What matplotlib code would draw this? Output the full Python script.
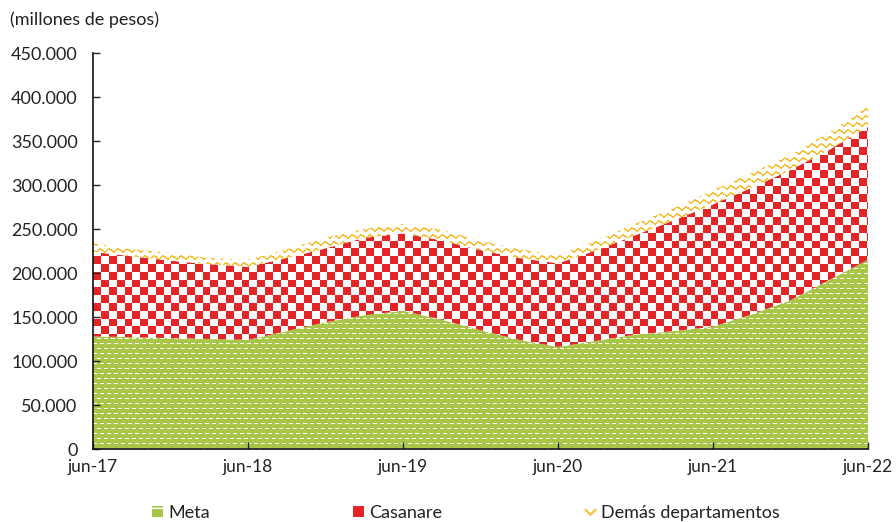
import numpy as np
import matplotlib.pyplot as plt
from matplotlib.colors import to_rgb
from matplotlib.patches import Patch
from matplotlib.lines import Line2D
from matplotlib.path import Path
from matplotlib.ticker import FuncFormatter

# datos trimestrales, millones de pesos
etiquetas = ['jun-17', 'jun-18', 'jun-19', 'jun-20', 'jun-21', 'jun-22']
meses = np.arange(0, 61, 3)
meta = np.array([128, 127, 126, 125, 124, 134, 144, 152, 157, 147, 135,
                 124, 116, 123, 130, 134, 139, 153, 169, 192, 215]) * 1000
casanare = np.array([96, 92, 88, 85, 83, 83, 84, 88, 88, 90, 91,
                     93, 95, 103, 113, 126, 139, 144, 148, 148, 151]) * 1000
demas = np.array([10, 8, 9, 7, 8, 10, 12, 10, 11, 12, 11,
                  10, 9, 11, 13, 14, 16, 17, 17, 20, 23]) * 1000

VERDE = '#A8C648'
ROJO = '#E42528'
AMARILLO = '#F8BE2E'

plt.rcParams['font.family'] = ['Lato', 'DejaVu Sans']

W, H = 775, 396   # tamaño del área de ejes en píxeles


def patron_cuadros(color, celda=7.8):
    ii, jj = np.mgrid[0:H, 0:W]
    m = ((ii / celda).astype(int) + (jj / celda).astype(int)) % 2 == 0
    img = np.ones((H, W, 4))
    img[m, :3] = to_rgb(color)
    return img


def patron_guiones(color):
    ii, jj = np.mgrid[0:H, 0:W]
    img = np.ones((H, W, 4))
    img[..., :3] = to_rgb(color)
    fila = ii % 5 == 0
    desfase = np.where((ii // 5) % 2 == 0, 0, 3)
    m = fila & (((jj + desfase) % 7) < 4)
    img[m, :3] = 1.0
    return img


def patron_ondas(color, paso=7, periodo=9, amp=1.3, grosor=1.9):
    ii, jj = np.mgrid[0:H, 0:W]
    onda = amp * np.sin(2 * np.pi * jj / periodo)
    d = (ii - onda) % paso
    img = np.ones((H, W, 4))
    img[d < grosor, :3] = to_rgb(color)
    return img


fig = plt.figure(figsize=(8.96, 5.22), dpi=100)
ax = fig.add_axes([93 / 896, 73 / 522, W / 896, H / 522])
ax.set_xlim(0, 60)
ax.set_ylim(0, 450000)

capas = [
    (np.zeros_like(meta), meta, patron_guiones(VERDE)),
    (meta, meta + casanare, patron_cuadros(ROJO)),
    (meta + casanare, meta + casanare + demas, patron_ondas(AMARILLO)),
]
for abajo, arriba, img in capas:
    poly = ax.fill_between(meses, abajo, arriba, facecolor='none', edgecolor='none')
    im = ax.imshow(img, extent=(0, 60, 0, 450000), aspect='auto',
                   interpolation='nearest', zorder=1)
    im.set_clip_path(poly.get_paths()[0], ax.transData)

ax.set_xticks(np.arange(0, 61, 12))
ax.set_xticklabels(etiquetas)
ax.set_yticks(np.arange(0, 450001, 50000))
ax.yaxis.set_major_formatter(FuncFormatter(lambda v, p: f'{v:,.0f}'.replace(',', '.')))

for s in ['top', 'right']:
    ax.spines[s].set_visible(False)
for s in ['left', 'bottom']:
    ax.spines[s].set_linewidth(1.2)
    ax.spines[s].set_color('#111111')
    ax.spines[s].set_zorder(5)

ax.tick_params(axis='y', direction='in', length=5, width=1, pad=11,
               labelsize=13, colors='#222222')
ax.tick_params(axis='x', direction='in', length=5, width=1, pad=7,
               labelsize=12.5, colors='#222222')

fig.text(10 / 896, 1 - 20 / 522, '(millones de pesos)', fontsize=13,
         color='#222222', ha='left', va='center')

v_marca = Path([(-1, 0.6), (0, -0.4), (1, 0.6)],
               [Path.MOVETO, Path.LINETO, Path.LINETO])
handles = [
    Patch(facecolor=VERDE, edgecolor='white', hatch='-', linewidth=0),
    Patch(facecolor=ROJO, edgecolor='none'),
    Line2D([], [], linestyle='none', marker=v_marca, markersize=8,
           markerfacecolor='none', markeredgecolor=AMARILLO, markeredgewidth=1.5),
]
fig.legend(handles, ['Meta', 'Casanare', 'Demás departamentos'],
           loc='center', bbox_to_anchor=(466 / 896, 9 / 522), ncol=3,
           frameon=False, fontsize=13, handlelength=0.6, handleheight=0.6,
           handletextpad=0.3, columnspacing=7.9, labelcolor='#222222')

fig.savefig('out.png', dpi=100)
